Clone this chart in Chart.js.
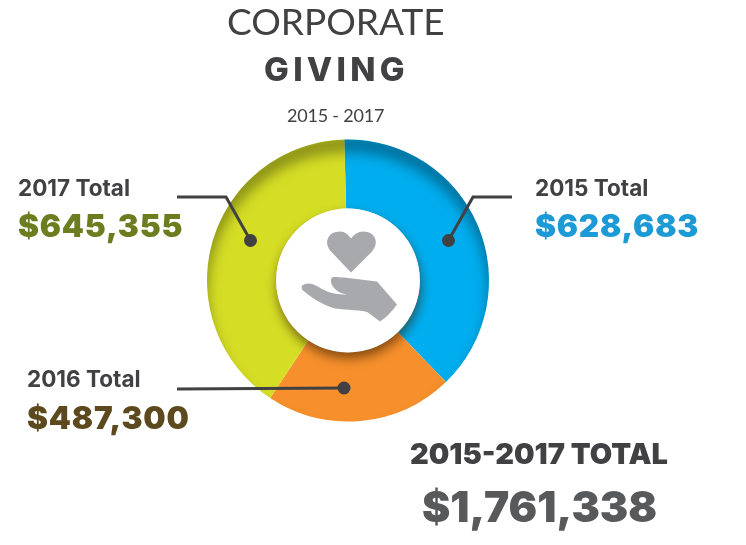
<!DOCTYPE html>
<html>
<head>
<meta charset="utf-8">
<script src="https://cdn.jsdelivr.net/npm/chart.js@4"></script>
<style>
  html, body { margin:0; padding:0; background:#fff; }
  #wrap { position:relative; width:746px; height:545px; overflow:hidden; font-family:'Inter',sans-serif; }
  #wrap canvas { position:absolute; left:0; top:0; }
  .t { position:absolute; white-space:nowrap; line-height:1; }
</style>
</head>
<body>
<div id="wrap">
  <canvas id="givingChart" width="746" height="545"></canvas>
  <div class="t" id="t-line1" style="left:227px;top:2px;font-family:Lato;font-size:37px;color:#414042;font-weight:400">CORPORATE</div>
  <div class="t" id="t-line2" style="left:264px;top:53px;font-size:33px;color:#414042;font-weight:800;letter-spacing:4.3px">GIVING</div>
  <div class="t" id="t-line3" style="left:287px;top:106px;font-family:Lato;font-size:18px;color:#414042;letter-spacing:-.2px">2015 - 2017</div>
  <div class="t" id="lab0" style="left:535px;top:177px;font-size:22.5px;font-weight:700;color:#414042">2015 Total</div>
  <div class="t" id="val0" style="left:535px;top:210px;font-size:31.5px;font-weight:900;color:#1C9AD6;letter-spacing:.8px">$628,683</div>
  <div class="t" id="lab1" style="left:27px;top:368px;font-size:22.5px;font-weight:700;color:#414042">2016 Total</div>
  <div class="t" id="val1" style="left:27px;top:402px;font-size:31.5px;font-weight:900;color:#5C4A1E;letter-spacing:.8px">$487,300</div>
  <div class="t" id="lab2" style="left:18px;top:177px;font-size:22.5px;font-weight:700;color:#414042">2017 Total</div>
  <div class="t" id="val2" style="left:18px;top:210px;font-size:31.5px;font-weight:900;color:#6B7D1E;letter-spacing:.8px">$645,355</div>
  <div class="t" id="grandLab" style="left:410px;top:439px;font-size:29px;font-weight:900;color:#414042">2015-2017 TOTAL</div>
  <div class="t" id="grandVal" style="left:422px;top:486px;font-size:42.5px;font-weight:900;color:#58595B">$1,761,338</div>
</div>
<script>
/* ── Data ── */
const YEARS = ['2015 Total','2016 Total','2017 Total'];
const TOTALS = ['$628,683','$487,300','$645,355'];
// slice sizes as drawn in the picture, in degrees (the art is not to scale with the totals)
const SLICE_DEGREES = [137.5, 77.5, 145];
const SLICE_COLORS = ['#00AEEF','#F7902C','#D5DE25'];
const GRAND_TOTAL = '$1,761,338';

/* ── Leader lines: each runs from a dot on a slice out to its label ── */
const LEADERS = [
  [[448.5,240.5],[473,197],[512,197]],
  [[344,388],[177,389]],
  [[250.5,240.5],[226,197],[177,197]]
];

/* ── Inner shadow along the ring's outer edge ── */
const ringShadow = {
  id:'ringShadow',
  afterDatasetsDraw(chart) {
    const arc = chart.getDatasetMeta(0).data[0];
    const { x, y, outerRadius:r } = arc;
    const c = chart.ctx;
    c.save();
    c.beginPath(); c.arc(x,y,r,0,Math.PI*2); c.clip();
    // shadow falls from above, so a ring just outside the clip throws it inward and down
    c.shadowColor = 'rgba(0,0,0,.75)';
    c.shadowBlur = 16;
    c.shadowOffsetY = 12;
    c.lineWidth = 8;
    c.strokeStyle = '#000';
    c.beginPath(); c.arc(x,y,r+8,0,Math.PI*2); c.stroke();
    c.restore();
  }
};

/* ── Centre disc with hand and heart, then the leaders on top ── */
const centerArt = {
  id:'centerArt',
  afterDraw(chart) {
    const arc = chart.getDatasetMeta(0).data[0];
    const { x, y, innerRadius } = arc;
    const c = chart.ctx;
    c.save();
    c.shadowColor = 'rgba(60,30,0,.6)';
    c.shadowBlur = 11;
    c.shadowOffsetX = 1;
    c.shadowOffsetY = 6;
    c.fillStyle = '#fff';
    c.beginPath(); c.arc(x,y,innerRadius,0,Math.PI*2); c.fill();
    c.restore();

    c.save();
    c.translate(x,y);
    c.fillStyle = '#A7A9AC';
    // heart
    c.beginPath();
    c.moveTo(3,-8);
    c.lineTo(-17,-29);
    c.bezierCurveTo(-25,-38,-20,-49,-8,-49);
    c.bezierCurveTo(-3,-49,0,-46,3,-42);
    c.bezierCurveTo(6,-46,10,-49,15,-49);
    c.bezierCurveTo(27,-49,32,-38,24,-29);
    c.closePath();
    c.fill();
    // hand
    c.beginPath();
    c.moveTo(-44,4);
    c.bezierCurveTo(-38,1,-32,5,-25,9);
    c.bezierCurveTo(-18,13,-10,14,-1,14);
    c.bezierCurveTo(-10,13,-18,6,-17,-1);
    c.bezierCurveTo(-16,-5,-12,-3,-4,-3);
    c.lineTo(29,1);
    c.lineTo(49,24);
    c.bezierCurveTo(44,31,38,37,32,41);
    c.lineTo(20,32);
    c.bezierCurveTo(14,29,0,30,-13,28);
    c.bezierCurveTo(-25,25,-38,16,-45,10);
    c.bezierCurveTo(-47,8,-47,5,-44,4);
    c.closePath();
    c.fill();
    c.restore();

    c.save();
    c.strokeStyle = c.fillStyle = '#414042';
    c.lineWidth = 3;
    LEADERS.forEach(pts => {
      c.beginPath();
      pts.forEach((p,i) => i ? c.lineTo(p[0],p[1]) : c.moveTo(p[0],p[1]));
      c.stroke();
      c.beginPath(); c.arc(pts[0][0],pts[0][1],6.5,0,Math.PI*2); c.fill();
    });
    c.restore();
  }
};

/* ── Chart ── */
function buildGivingChart() {
  const ctx = document.getElementById('givingChart').getContext('2d');
  new Chart(ctx, {
    type:'doughnut',
    data:{
      labels: YEARS,
      datasets:[{ data:SLICE_DEGREES, backgroundColor:SLICE_COLORS, borderWidth:0, hoverOffset:0 }]
    },
    options:{
      responsive:false, animation:false, cutout:'51%', rotation:-1.5,
      layout:{ padding:{ left:207, right:257, top:139.5, bottom:123.5 } },
      plugins:{ legend:{display:false}, tooltip:{enabled:false} }
    },
    plugins:[ringShadow, centerArt]
  });
}

TOTALS.forEach((t,i) => {
  document.getElementById('val'+i).textContent = t;
  document.getElementById('lab'+i).textContent = YEARS[i];
});
document.getElementById('grandVal').textContent = GRAND_TOTAL;
buildGivingChart();
</script>
</body>
</html>
